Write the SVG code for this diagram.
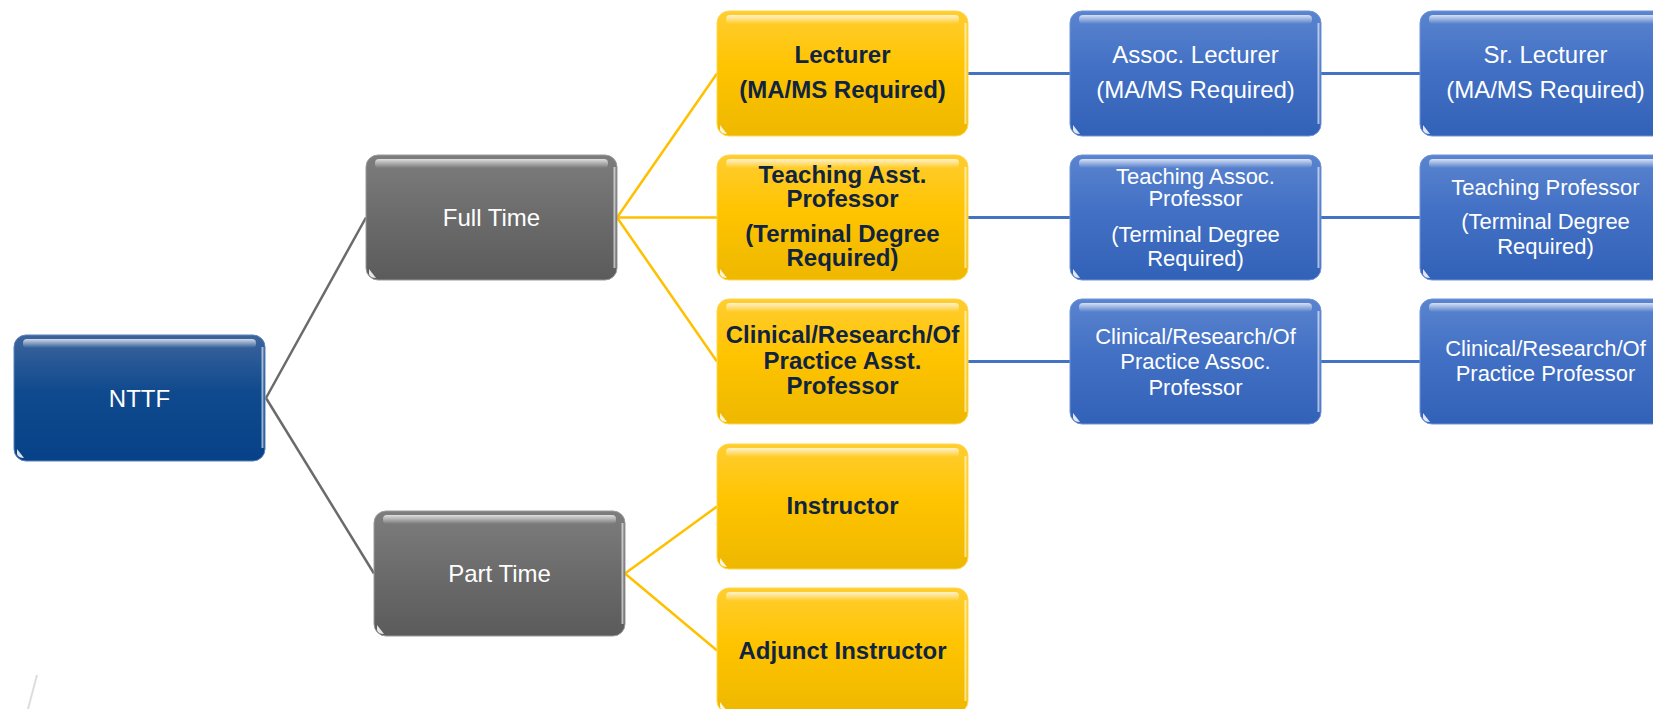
<svg xmlns="http://www.w3.org/2000/svg" xmlns:xlink="http://www.w3.org/1999/xlink" width="1653" height="709" viewBox="0 0 1653 709">
<style>
  text { font-family: "Liberation Sans", Arial, sans-serif; text-anchor: middle; }
  .w { fill: #ffffff; font-size: 24px; }
  .w22 { fill: #ffffff; font-size: 22px; }
  .y { fill: #10243f; font-size: 24px; font-weight: bold; }
  .cg { stroke: #6b6b6b; stroke-width: 2.5; fill: none; }
  .cy { stroke: #ffc000; stroke-width: 2.5; fill: none; }
  .cb { stroke: #4472c4; stroke-width: 3; fill: none; }
</style>
<defs>
  <linearGradient id="gNavy" x1="0" y1="0" x2="0" y2="1">
    <stop offset="0" stop-color="#3d649c"/>
    <stop offset="0.45" stop-color="#0f4a8e"/>
    <stop offset="1" stop-color="#074289"/>
  </linearGradient>
  <linearGradient id="gGray" x1="0" y1="0" x2="0" y2="1">
    <stop offset="0" stop-color="#7d7d7d"/>
    <stop offset="0.5" stop-color="#6b6b6b"/>
    <stop offset="1" stop-color="#5b5b5b"/>
  </linearGradient>
  <linearGradient id="gYellow" x1="0" y1="0" x2="0" y2="1">
    <stop offset="0" stop-color="#ffcd30"/>
    <stop offset="0.45" stop-color="#ffc400"/>
    <stop offset="1" stop-color="#eeb800"/>
  </linearGradient>
  <linearGradient id="gBlue" x1="0" y1="0" x2="0" y2="1">
    <stop offset="0" stop-color="#5a84cf"/>
    <stop offset="0.45" stop-color="#4270c4"/>
    <stop offset="1" stop-color="#3262b8"/>
  </linearGradient>
  <linearGradient id="gHi" x1="0" y1="0" x2="0" y2="1">
    <stop offset="0" stop-color="#ffffff" stop-opacity="0.75"/>
    <stop offset="1" stop-color="#ffffff" stop-opacity="0"/>
  </linearGradient>
  <g id="gloss">
    <rect x="9" y="4" width="233" height="9" rx="4" fill="url(#gHi)"/>
    <line x1="248.5" y1="12" x2="248.5" y2="113" stroke="#ffffff" stroke-opacity="0.6" stroke-width="2"/>
    <path d="M3,114 L3,119 Q4,123 10,123 Z" fill="#ffffff" fill-opacity="0.85"/>
  </g>
</defs>

<line x1="37" y1="675" x2="28" y2="709" stroke="#dddddd" stroke-width="2"/>

<g id="connectors">
  <path class="cg" d="M266,398 L366,217.5 M266,398 L374,573.5"/>
  <path class="cy" d="M617,217.5 L717,73.5 M617,217.5 L717,217.5 M617,217.5 L717,361.5"/>
  <path class="cy" d="M625,573.5 L717,506.5 M625,573.5 L717,650.5"/>
  <path class="cb" d="M968,73.5 L1070,73.5 M1321,73.5 L1420,73.5"/>
  <path class="cb" d="M968,217.5 L1070,217.5 M1321,217.5 L1420,217.5"/>
  <path class="cb" d="M968,361.5 L1070,361.5 M1321,361.5 L1420,361.5"/>
</g>

<g id="nttf">
  <rect x="14" y="335" width="251" height="126" rx="12" fill="url(#gNavy)" stroke="#5a82bb" stroke-width="1"/>
  <use xlink:href="#gloss" x="14" y="335"/>
  <text class="w" x="139.5" y="406.5">NTTF</text>
</g>

<g id="full-time">
  <rect x="366" y="155" width="251" height="125" rx="12" fill="url(#gGray)" stroke="#9a9a9a" stroke-width="1"/>
  <use xlink:href="#gloss" x="366" y="155"/>
  <text class="w" x="491.5" y="225.5">Full Time</text>
</g>

<g id="part-time">
  <rect x="374" y="511" width="251" height="125" rx="12" fill="url(#gGray)" stroke="#9a9a9a" stroke-width="1"/>
  <use xlink:href="#gloss" x="374" y="511"/>
  <text class="w" x="499.5" y="581.5">Part Time</text>
</g>

<g id="lecturer">
  <rect x="717" y="11" width="251" height="125" rx="12" fill="url(#gYellow)" stroke="#ffd84a" stroke-width="1"/>
  <use xlink:href="#gloss" x="717" y="11"/>
  <text class="y" x="842.5" y="63">Lecturer</text>
  <text class="y" x="842.5" y="97.5">(MA/MS Required)</text>
</g>

<g id="teaching-asst">
  <rect x="717" y="155" width="251" height="125" rx="12" fill="url(#gYellow)" stroke="#ffd84a" stroke-width="1"/>
  <use xlink:href="#gloss" x="717" y="155"/>
  <text class="y" x="842.5" y="182.5">Teaching Asst.</text>
  <text class="y" x="842.5" y="207">Professor</text>
  <text class="y" x="842.5" y="242">(Terminal Degree</text>
  <text class="y" x="842.5" y="266">Required)</text>
</g>

<g id="clinical-asst">
  <rect x="717" y="299" width="251" height="125" rx="12" fill="url(#gYellow)" stroke="#ffd84a" stroke-width="1"/>
  <use xlink:href="#gloss" x="717" y="299"/>
  <text class="y" x="842.5" y="343">Clinical/Research/Of</text>
  <text class="y" x="842.5" y="368.5">Practice Asst.</text>
  <text class="y" x="842.5" y="394">Professor</text>
</g>

<g id="instructor">
  <rect x="717" y="444" width="251" height="125" rx="12" fill="url(#gYellow)" stroke="#ffd84a" stroke-width="1"/>
  <use xlink:href="#gloss" x="717" y="444"/>
  <text class="y" x="842.5" y="514">Instructor</text>
</g>

<g id="adjunct-instructor">
  <rect x="717" y="588" width="251" height="125" rx="12" fill="url(#gYellow)" stroke="#ffd84a" stroke-width="1"/>
  <use xlink:href="#gloss" x="717" y="588"/>
  <text class="y" x="842.5" y="658.5">Adjunct Instructor</text>
</g>

<g id="assoc-lecturer">
  <rect x="1070" y="11" width="251" height="125" rx="12" fill="url(#gBlue)" stroke="#6f93d6" stroke-width="1"/>
  <use xlink:href="#gloss" x="1070" y="11"/>
  <text class="w" x="1195.5" y="63">Assoc. Lecturer</text>
  <text class="w" x="1195.5" y="98">(MA/MS Required)</text>
</g>

<g id="teaching-assoc">
  <rect x="1070" y="155" width="251" height="125" rx="12" fill="url(#gBlue)" stroke="#6f93d6" stroke-width="1"/>
  <use xlink:href="#gloss" x="1070" y="155"/>
  <text class="w22" x="1195.5" y="184">Teaching Assoc.</text>
  <text class="w22" x="1195.5" y="206">Professor</text>
  <text class="w22" x="1195.5" y="242">(Terminal Degree</text>
  <text class="w22" x="1195.5" y="266">Required)</text>
</g>

<g id="clinical-assoc">
  <rect x="1070" y="299" width="251" height="125" rx="12" fill="url(#gBlue)" stroke="#6f93d6" stroke-width="1"/>
  <use xlink:href="#gloss" x="1070" y="299"/>
  <text class="w22" x="1195.5" y="343.5">Clinical/Research/Of</text>
  <text class="w22" x="1195.5" y="369">Practice Assoc.</text>
  <text class="w22" x="1195.5" y="394.5">Professor</text>
</g>

<g id="sr-lecturer">
  <rect x="1420" y="11" width="251" height="125" rx="12" fill="url(#gBlue)" stroke="#6f93d6" stroke-width="1"/>
  <use xlink:href="#gloss" x="1420" y="11"/>
  <text class="w" x="1545.5" y="63">Sr. Lecturer</text>
  <text class="w" x="1545.5" y="98">(MA/MS Required)</text>
</g>

<g id="teaching-professor">
  <rect x="1420" y="155" width="251" height="125" rx="12" fill="url(#gBlue)" stroke="#6f93d6" stroke-width="1"/>
  <use xlink:href="#gloss" x="1420" y="155"/>
  <text class="w22" x="1545.5" y="194.5">Teaching Professor</text>
  <text class="w22" x="1545.5" y="229">(Terminal Degree</text>
  <text class="w22" x="1545.5" y="253.5">Required)</text>
</g>

<g id="clinical-professor">
  <rect x="1420" y="299" width="251" height="125" rx="12" fill="url(#gBlue)" stroke="#6f93d6" stroke-width="1"/>
  <use xlink:href="#gloss" x="1420" y="299"/>
  <text class="w22" x="1545.5" y="356">Clinical/Research/Of</text>
  <text class="w22" x="1545.5" y="381">Practice Professor</text>
</g>
</svg>
